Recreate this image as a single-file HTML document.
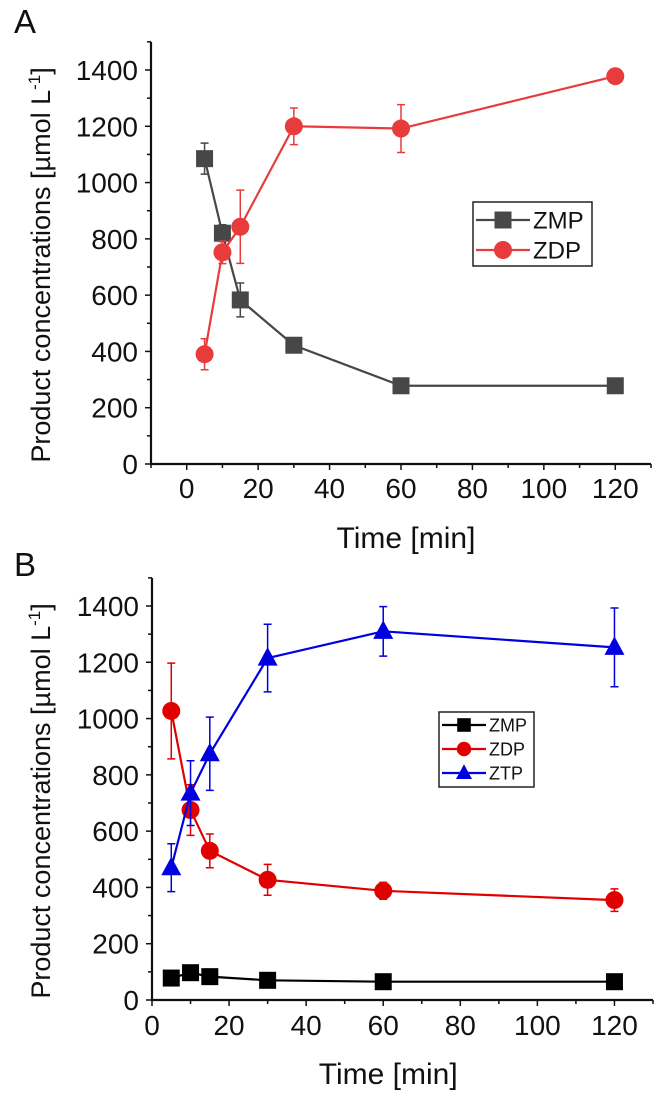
<!DOCTYPE html>
<html><head><meta charset="utf-8"><style>
html,body{margin:0;padding:0;background:#fff;}
svg{display:block;font-family:"Liberation Sans",Arial,sans-serif;}
</style></head><body>
<svg id="fig" width="658" height="1110" viewBox="0 0 658 1110"></svg>
<script>
const timesA = [5,10,15,30,60,120];
const zmpA = [1085,820,583,422,278,278];
const zmpErrA = [55,30,60,0,0,0];
const zdpA = [390,752,843,1200,1192,1378];
const zdpErrA = [55,40,130,65,85,0];
const timesB = [5,10,15,30,60,120];
const zmpB = [78,97,83,70,65,65];
const zmpErrB = [0,0,0,0,0,0];
const zdpB = [1027,675,530,427,388,355];
const zdpErrB = [170,90,60,55,30,40];
const ztpB = [470,735,875,1215,1310,1253];
const ztpErrB = [85,115,130,120,88,140];
const yTicks = [0,200,400,600,800,1000,1200,1400];
const xTicks = [0,20,40,60,80,100,120];

const NS="http://www.w3.org/2000/svg";
const svg=document.getElementById('fig');
function mk(tag,attrs,parent){const e=document.createElementNS(NS,tag);for(const k in attrs)e.setAttribute(k,attrs[k]);(parent||svg).appendChild(e);return e;}

function panel(cfg){
  const g=mk('g',{});
  
  
  const X=v=>cfg.x0+(v-cfg.xmin)/(cfg.xmax-cfg.xmin)*(cfg.x1-cfg.x0);
  const Y=v=>cfg.y0-(v/1400)*(cfg.y0-cfg.y1400);
  const top=Y(1500);
  const lbl=mk('text',{x:cfg.letterX,y:cfg.letterY,'font-size':33,fill:'#111'},g);lbl.textContent=cfg.letter;
  
  
  const ax=mk('path',{d:`M${cfg.x0},${top} L${cfg.x0},${cfg.y0} L${cfg.x1},${cfg.y0}`,stroke:'#111','stroke-width':2.2,fill:'none'},g);
  
  
  for(let v=0;v<=1500;v+=100){const y=Y(v);const major=v%200===0;mk('line',{x1:cfg.x0-(major?6:4),x2:cfg.x0,y1:y,y2:y,stroke:'#111','stroke-width':1.5},g);}
  yTicks.forEach(v=>{const t=mk('text',{x:cfg.x0-13,y:Y(v)+10,'font-size':28,'text-anchor':'end',fill:'#111'},g);t.textContent=v;
    
    });
  for(let v=cfg.xmin;v<=cfg.xmax;v+=10){const x=X(v);const major=v%20===0;mk('line',{x1:x,x2:x,y1:cfg.y0,y2:cfg.y0+(major?6:4),stroke:'#111','stroke-width':1.5},g);}
  xTicks.forEach(v=>{const t=mk('text',{x:X(v),y:cfg.xLabelY,'font-size':28,'text-anchor':'middle',fill:'#111'},g);t.textContent=v;
    
    });
  const xt=mk('text',{x:X(60)+5,y:cfg.xTitleY,'font-size':30,'text-anchor':'middle',fill:'#111'},g);xt.textContent='Time [min]';
  
  
  const yc=(cfg.y0+top)/2+12;
  const yt=mk('text',{x:0,y:0,'font-size':27,'text-anchor':'middle',fill:'#111',transform:`translate(50,${yc}) rotate(-90)`},g);
  yt.innerHTML='Product concentrations [µmol L<tspan dy="-10" font-size="17">-1</tspan><tspan dy="10">]</tspan>';
  
  
  cfg.series.forEach(s=>{
    const sg=mk('g',{},g);
    
    
    s.vals.forEach((v,i)=>{if(s.err[i]>0){const x=X(s.t[i]);mk('path',{d:`M${x},${Y(v-s.err[i])}L${x},${Y(v+s.err[i])}M${x-4},${Y(v-s.err[i])}L${x+4},${Y(v-s.err[i])}M${x-4},${Y(v+s.err[i])}L${x+4},${Y(v+s.err[i])}`,stroke:s.color,'stroke-width':1.5,fill:'none'},sg);}});
    mk('polyline',{points:s.vals.map((v,i)=>X(s.t[i])+','+Y(v)).join(' '),stroke:s.color,'stroke-width':2.2,fill:'none'},sg);
    s.vals.forEach((v,i)=>{const m=marker(s.shape,X(s.t[i]),Y(v),s.color,sg);
      
      });
  });
  const L=cfg.legend;
  const lg=mk('g',{},g);
  
  
  mk('rect',{x:L.x,y:L.y,width:L.w,height:L.h,fill:'#fff',stroke:'#222','stroke-width':1.5},lg);
  cfg.series.forEach((s,i)=>{const y=L.y+L.first+i*L.step;
    const e=mk('g',{},lg);
    
    
    mk('line',{x1:L.x+3,x2:L.x+L.line,y1:y,y2:y,stroke:s.color,'stroke-width':2.2},e);
    marker(s.shape,L.x+3+(L.line-3)/2,y,s.color,e,L.ms);
    const t=mk('text',{x:L.x+L.line+3,y:y+L.fs*0.36,'font-size':L.fs,fill:'#111'},e);t.textContent=s.label;});
}
function marker(shape,x,y,c,p,sz){sz=sz||1;
  if(shape==='sq')return mk('rect',{x:x-8.5*sz,y:y-8.5*sz,width:17*sz,height:17*sz,fill:c},p);
  if(shape==='ci')return mk('circle',{cx:x,cy:y,r:9*sz,fill:c},p);
  return mk('polygon',{points:`${x},${y-11*sz} ${x+10*sz},${y+7.5*sz} ${x-10*sz},${y+7.5*sz}`,fill:c},p);}

panel({name:'panel-a',letter:'A',letterX:14,letterY:33,x0:151,x1:651,xmin:-10,xmax:130,y0:464,y1400:70,xLabelY:498,xTitleY:548,
  series:[{label:'ZMP',t:timesA,vals:zmpA,err:zmpErrA,color:'#474747',shape:'sq'},
          {label:'ZDP',t:timesA,vals:zdpA,err:zdpErrA,color:'#e83c3c',shape:'ci'}],
  legend:{x:473,y:202,w:119,h:64,first:18,step:30,line:57,fs:24,ms:1}});
panel({name:'panel-b',letter:'B',letterX:14,letterY:576,x0:152,x1:653,xmin:0,xmax:130,y0:1000,y1400:606,xLabelY:1035,xTitleY:1084,
  series:[{label:'ZMP',t:timesB,vals:zmpB,err:zmpErrB,color:'#000',shape:'sq'},
          {label:'ZDP',t:timesB,vals:zdpB,err:zdpErrB,color:'#e00000',shape:'ci'},
          {label:'ZTP',t:timesB,vals:ztpB,err:ztpErrB,color:'#0000e0',shape:'tr'}],
  legend:{x:439,y:712,w:95,h:75,first:13,step:24,line:47,fs:18,ms:0.8}});
</script>
</body></html>
